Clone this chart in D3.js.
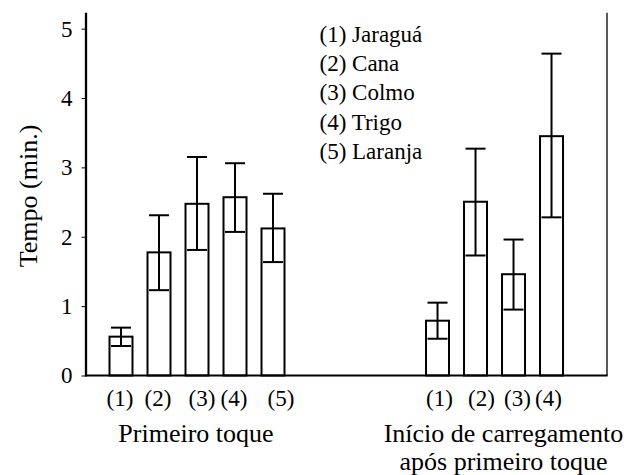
<!DOCTYPE html>
<html>
<head>
<meta charset="utf-8">
<script src="https://cdn.jsdelivr.net/npm/d3@7"></script>
<style>
  html, body { margin: 0; padding: 0; background: #fff; }
  svg { display: block; }
  svg text { font-family: "Liberation Serif", serif !important; fill: #000; }
</style>
</head>
<body>
<svg id="chart" width="638" height="475"></svg>
<script>
// ---------- data ----------
const groupNames = ["Primeiro toque", "Início de carregamento|após primeiro toque"];
const legendItems = ["(1) Jaraguá", "(2) Cana", "(3) Colmo", "(4) Trigo", "(5) Laranja"];
const yTicks = [0, 1, 2, 3, 4, 5];

const labelsG1 = ["(1)", "(2)", "(3)", "(4)", "(5)"];
const meanG1   = [0.56, 1.775, 2.475, 2.57, 2.12];
const hiG1     = [0.69, 2.31, 3.15, 3.06, 2.62];
const loG1     = [0.425, 1.23, 1.81, 2.07, 1.635];

const labelsG2 = ["(1)", "(2)", "(3)", "(4)"];
const meanG2   = [0.79, 2.505, 1.46, 3.45];
const hiG2     = [1.05, 3.27, 1.96, 4.64];
const loG2     = [0.53, 1.73, 0.95, 2.28];

// ---------- layout ----------
const FONT = "'Liberation Serif', serif";
const pLeft = 86, pRight = 607, pTop = 12.7, pBottom = 375.5;
const svg = d3.select("#chart");

const y = d3.scaleLinear().domain([0, 5.23]).range([pBottom, pTop]);
// x in "slot" units (one slot per bar)
const x = d3.scaleLinear().domain([0, 13.71]).range([pLeft, pRight]);
const groupStart = [0.921, 9.25];
const barW = x(0.605) - x(0);
const capHalf = 10;
const labelShift = [[-1, -1, 5, -1, 8], [2, 6, 4, -3]];

const groups = [
  labelsG1.map((l, i) => ({label: l, i, mean: meanG1[i], hi: hiG1[i], lo: loG1[i], g: 0})),
  labelsG2.map((l, i) => ({label: l, i, mean: meanG2[i], hi: hiG2[i], lo: loG2[i], g: 1}))
];
const all = groups.flat();
const cx = d => x(groupStart[d.g] + d.i);

// bars
svg.append("g").selectAll("rect").data(all).join("rect")
  .attr("x", d => cx(d) - barW / 2)
  .attr("y", d => y(d.mean))
  .attr("width", barW)
  .attr("height", d => y(0) - y(d.mean))
  .attr("fill", "#fff").attr("stroke", "#000").attr("stroke-width", 2);

// error bars
const eb = svg.append("g").attr("stroke", "#000").attr("stroke-width", 2);
eb.selectAll("line.v").data(all).join("line").attr("class", "v")
  .attr("x1", cx).attr("x2", cx)
  .attr("y1", d => y(d.lo)).attr("y2", d => y(d.hi));
eb.selectAll("line.t").data(all).join("line").attr("class", "t")
  .attr("x1", d => cx(d) - capHalf).attr("x2", d => cx(d) + capHalf)
  .attr("y1", d => y(d.hi)).attr("y2", d => y(d.hi));
eb.selectAll("line.b").data(all).join("line").attr("class", "b")
  .attr("x1", d => cx(d) - capHalf).attr("x2", d => cx(d) + capHalf)
  .attr("y1", d => y(d.lo)).attr("y2", d => y(d.lo));

// y axis
const yAxis = svg.append("g").attr("transform", `translate(${pLeft},0)`)
  .call(d3.axisLeft(y).tickValues(yTicks).tickFormat(d3.format("d")).tickSize(4.5).tickPadding(9));
yAxis.attr("font-family", FONT);
yAxis.select(".domain").remove();
yAxis.selectAll(".tick line").attr("stroke", "#000").attr("stroke-width", 1);
yAxis.selectAll(".tick text").attr("font-size", 23).style("font-family", FONT);

// axis lines
svg.append("line").attr("x1", pLeft).attr("x2", pLeft).attr("y1", pTop).attr("y2", pBottom + 1)
  .attr("stroke", "#000").attr("stroke-width", 2.3);
svg.append("line").attr("x1", pLeft).attr("x2", pRight + 0.6).attr("y1", pBottom).attr("y2", pBottom)
  .attr("stroke", "#000").attr("stroke-width", 2);
svg.append("line").attr("x1", pRight).attr("x2", pRight).attr("y1", pTop).attr("y2", pBottom)
  .attr("stroke", "#000").attr("stroke-width", 1.3);

// category labels
svg.append("g").selectAll("text").data(all).join("text")
  .attr("x", d => cx(d) + labelShift[d.g][d.i])
  .attr("y", 406)
  .attr("text-anchor", "middle").attr("font-size", 23).style("font-family", FONT)
  .text(d => d.label);

// group labels
const gCenters = [196, 503.5];
groupNames.forEach((name, gi) => {
  const lines = name.split("|");
  const t = svg.append("text").attr("text-anchor", "middle").attr("font-size", 26)
    .style("font-family", FONT)
    .attr("x", gCenters[gi]).attr("y", 442);
  lines.forEach((ln, k) => {
    t.append("tspan").attr("x", gCenters[gi]).attr("y", 442 + k * 27.5).text(ln);
  });
});

// y title
svg.append("text").attr("transform", "translate(37,196) rotate(-90)")
  .attr("text-anchor", "middle").attr("font-size", 26).style("font-family", FONT)
  .text("Tempo (min.)");

// legend
svg.append("g").selectAll("text").data(legendItems).join("text")
  .attr("x", 319.5).attr("y", (d, i) => 42 + i * 29.2)
  .attr("font-size", 23).style("font-family", FONT).text(d => d);
</script>
</body>
</html>
